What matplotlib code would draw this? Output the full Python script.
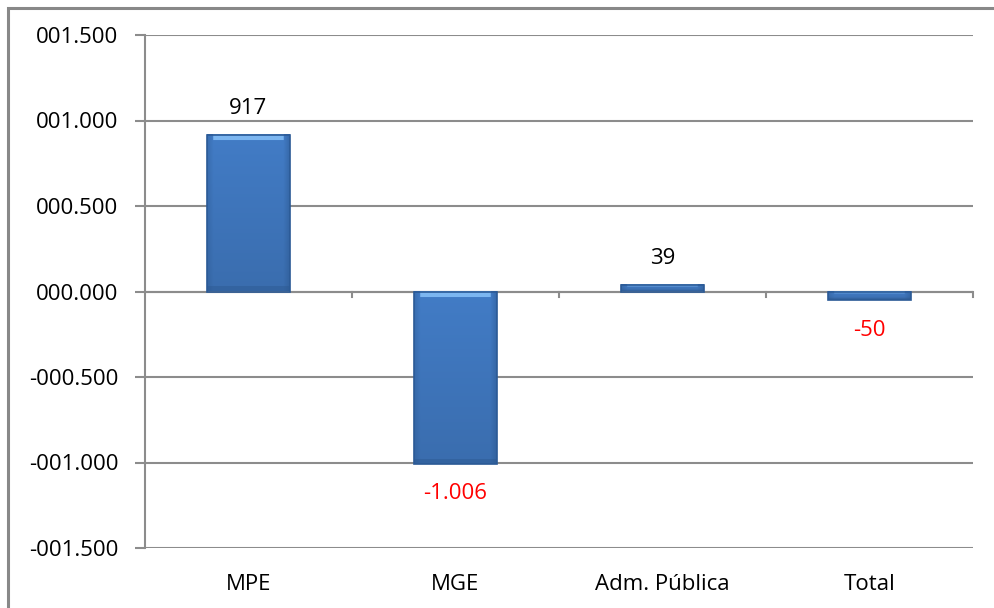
import matplotlib
matplotlib.use("Agg")
import matplotlib.pyplot as plt
import numpy as np
from matplotlib.patches import Rectangle

categories = ["MPE", "MGE", "Adm. Pública", "Total"]
values = [917, -1006, 39, -50]
value_labels = ["917", "-1.006", "39", "-50"]
yticks = [-1500, -1000, -500, 0, 500, 1000, 1500]
ytick_labels = ["-001.500", "-001.000", "-000.500", "000.000", "000.500", "001.000", "001.500"]

plt.rcParams['font.family'] = ['Open Sans', 'DejaVu Sans']
FS = 16

W, H = 995, 608
fig = plt.figure(figsize=(W / 100, H / 100), dpi=100)
ax = fig.add_axes([145 / W, 1 - 548 / H, (973 - 145) / W, (548 - 35) / H])

# outer frame
fig.patches.append(Rectangle((8 / W, -0.1), 1.2, 1 - 8 / H + 0.1, transform=fig.transFigure,
                             fill=False, edgecolor="#888888", linewidth=2.2, zorder=0))

BW = 0.4


def bevel_image(height_px, width_px=80):
    base = np.array([0x42, 0x7c, 0xc6]) / 255.0
    dark = np.array([0x2a, 0x55, 0x8c]) / 255.0
    light = np.array([0x7c, 0xb6, 0xf0]) / 255.0
    h = max(int(height_px), 2)
    img = np.tile(base, (h, width_px, 1))
    t = np.linspace(0, 1, h)[:, None, None]
    img = img * (1 - 0.12 * t)
    e = 6
    for i in range(e):
        f = 1 - i / e
        img[:, i] = img[:, i] * (1 - 0.35 * f) + dark * 0.35 * f
        img[:, -1 - i] = img[:, -1 - i] * (1 - 0.45 * f) + dark * 0.45 * f
    tb = min(6, max(h // 3, 1))
    img[:tb, e:-e] = light
    bb = min(5, max(h // 4, 1))
    img[-bb:] = img[-bb:] * 0.6 + dark * 0.4
    return np.clip(img, 0, 1)


x = list(range(len(categories)))
ax.bar(x, values, width=BW, color="none", edgecolor="#2b5a96", linewidth=1.2, zorder=4)
ppu = 513 / 3000.0
for xi, v in zip(x, values):
    img = bevel_image(abs(v) * ppu)
    ext = (xi - BW / 2, xi + BW / 2, 0, v) if v >= 0 else (xi - BW / 2, xi + BW / 2, v, 0)
    ax.imshow(img, extent=ext, aspect="auto", origin="upper", zorder=3, interpolation="bilinear")

ax.set_xlim(-0.5, len(categories) - 0.5)
ax.set_ylim(-1500, 1500)
ax.set_yticks(yticks)
ax.set_yticklabels(ytick_labels, fontsize=FS)
ax.yaxis.grid(True, color="#8c8c8c", linewidth=1.5, zorder=0)
ax.set_axisbelow(True)

for s in ["top", "right", "bottom"]:
    ax.spines[s].set_visible(False)
ax.spines["left"].set_color("#8c8c8c")
ax.spines["left"].set_linewidth(1.5)

ax.axhline(0, color="#8c8c8c", linewidth=1.5, zorder=2)
ax.tick_params(axis="y", length=7, color="#8c8c8c", width=1.5, pad=12)
ax.tick_params(axis="x", length=0, pad=19)
ax.set_xticks(x)
ax.set_xticklabels(categories, fontsize=FS)

for b in [0.5, 1.5, 2.5, 3.5]:
    ax.plot([b, b], [0, -35], color="#8c8c8c", linewidth=1.5, zorder=2, clip_on=False)

for xi, v, t in zip(x, values, value_labels):
    if v >= 0:
        ax.text(xi, v + 90, t, ha="center", va="bottom", fontsize=FS, color="black")
    else:
        ax.text(xi, v - 115, t, ha="center", va="top", fontsize=FS, color="#ff0000")

fig.savefig("out.png", dpi=100)
